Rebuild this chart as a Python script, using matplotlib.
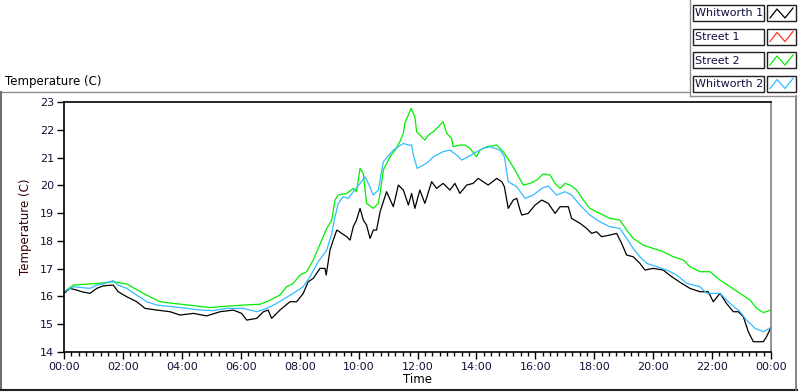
import matplotlib
matplotlib.use("Agg")
import matplotlib.pyplot as plt
from matplotlib.lines import Line2D
from matplotlib.patches import Rectangle
import numpy as np

# hours since midnight, temperature (C)
w1_hours = [0, 0.2, 0.43, 0.6, 0.88, 1.11, 1.33, 1.67, 1.84, 2.13, 2.47, 2.75, 3.15, 3.6, 3.94,
            4.39, 4.84, 5.3, 5.75, 6.03, 6.2, 6.54, 6.77, 6.93, 7.05, 7.33, 7.67, 7.9, 8.12,
            8.29, 8.46, 8.69, 8.86, 8.9, 9.03, 9.14, 9.26, 9.43, 9.6, 9.71, 9.82, 9.93, 10.05,
            10.16, 10.27, 10.39, 10.5, 10.61, 10.73, 10.95, 11.18, 11.35, 11.52, 11.69, 11.8,
            11.91, 12.08, 12.25, 12.48, 12.65, 12.87, 13.1, 13.27, 13.44, 13.67, 13.89, 14.06,
            14.23, 14.4, 14.69, 14.86, 14.95, 15.08, 15.25, 15.37, 15.48, 15.54, 15.76, 15.99,
            16.22, 16.44, 16.67, 16.84, 17.12, 17.23, 17.52, 17.74, 17.91, 18.08, 18.25, 18.53,
            18.76, 18.93, 19.1, 19.32, 19.55, 19.72, 20.0, 20.34, 20.63, 20.97, 21.25, 21.59,
            21.87, 22.04, 22.27, 22.49, 22.72, 22.89, 23.06, 23.23, 23.4, 23.74, 23.85, 24.0]
w1_temp = [16.11, 16.29, 16.23, 16.17, 16.11, 16.29, 16.38, 16.41, 16.17, 15.99, 15.81, 15.57,
           15.51, 15.45, 15.33, 15.39, 15.3, 15.45, 15.51, 15.39, 15.15, 15.21, 15.45, 15.51,
           15.21, 15.51, 15.81, 15.81, 16.11, 16.53, 16.65, 17.01, 17.01, 16.77, 17.67, 18.03,
           18.39, 18.27, 18.15, 18.03, 18.51, 18.75, 19.17, 18.75, 18.57, 18.09, 18.39, 18.39,
           19.05, 19.77, 19.23, 20.01, 19.83, 19.29, 19.71, 19.17, 19.83, 19.35, 20.13, 19.89,
           20.07, 19.83, 20.07, 19.71, 20.01, 20.07, 20.25, 20.13, 20.01, 20.25, 20.13, 19.95,
           19.17, 19.47, 19.53, 19.11, 18.93, 18.99, 19.29, 19.47, 19.35, 18.99, 19.23, 19.23,
           18.81, 18.63, 18.45, 18.27, 18.33, 18.15, 18.21, 18.27, 17.91, 17.49, 17.43, 17.19,
           16.95, 17.01, 16.95, 16.71, 16.47, 16.29, 16.17, 16.17, 15.81, 16.11, 15.75, 15.45,
           15.45, 15.27, 14.73, 14.37, 14.37, 14.55, 14.89]

st2_hours = [0, 0.32, 1.16, 1.67, 2.13, 2.69, 3.26, 3.71, 4.39, 4.95, 5.3, 6.09, 6.65, 6.88,
             7.33, 7.56, 7.78, 8.01, 8.24, 8.46, 8.75, 8.92, 9.09, 9.2, 9.31, 9.6, 9.82, 9.93,
             10.05, 10.16, 10.27, 10.5, 10.67, 10.73, 10.84, 11.07, 11.24, 11.4, 11.52, 11.57,
             11.78, 11.91, 11.97, 12.08, 12.25, 12.37, 12.54, 12.71, 12.87, 12.99, 13.16, 13.21,
             13.44, 13.61, 13.78, 14.01, 14.12, 14.35, 14.69, 14.91, 15.14, 15.37, 15.59, 15.82,
             16.05, 16.27, 16.5, 16.67, 16.84, 17.01, 17.18, 17.4, 17.63, 17.85, 18.19, 18.53,
             18.87, 19.1, 19.32, 19.66, 20.0, 20.34, 20.68, 21.02, 21.25, 21.59, 21.93, 22.27,
             22.61, 22.95, 23.29, 23.51, 23.74, 24.0]
st2_temp = [16.16, 16.41, 16.47, 16.53, 16.45, 16.11, 15.81, 15.75, 15.67, 15.6, 15.63, 15.69,
            15.72, 15.81, 16.05, 16.35, 16.47, 16.77, 16.89, 17.31, 18.03, 18.45, 18.75, 19.47,
            19.65, 19.71, 19.89, 19.77, 20.61, 20.43, 19.35, 19.17, 19.35, 19.71, 20.55, 21.03,
            21.27, 21.57, 21.87, 22.23, 22.77, 22.47, 21.93, 21.81, 21.63, 21.81, 21.93, 22.11,
            22.29, 21.87, 21.69, 21.39, 21.45, 21.45, 21.33, 21.03, 21.27, 21.39, 21.45, 21.21,
            20.85, 20.43, 20.01, 20.07, 20.19, 20.41, 20.37, 20.07, 19.89, 20.07, 20.01, 19.83,
            19.47, 19.17, 18.99, 18.81, 18.75, 18.39, 18.09, 17.85, 17.73, 17.61, 17.43, 17.31,
            17.07, 16.89, 16.89, 16.59, 16.35, 16.11, 15.87, 15.57, 15.42, 15.51]

w2_hours = [0, 0.32, 0.88, 1.11, 1.33, 1.67, 1.84, 2.13, 2.47, 2.81, 3.15, 3.71, 4.62, 5.07,
            5.52, 6.09, 6.54, 6.88, 7.22, 7.5, 7.78, 8.12, 8.35, 8.63, 8.92, 9.09, 9.2, 9.31,
            9.48, 9.65, 9.82, 10.05, 10.22, 10.33, 10.5, 10.67, 10.84, 11.18, 11.52, 11.69,
            11.8, 11.86, 11.99, 12.2, 12.37, 12.54, 12.87, 13.1, 13.33, 13.5, 13.72, 14.01,
            14.23, 14.46, 14.8, 14.95, 15.08, 15.37, 15.65, 15.93, 16.22, 16.44, 16.72, 17.01,
            17.23, 17.52, 17.85, 18.19, 18.53, 18.87, 19.1, 19.32, 19.55, 19.78, 20.12, 20.46,
            20.8, 21.14, 21.59, 21.82, 22.27, 22.61, 22.95, 23.17, 23.46, 23.74, 24.0]
w2_temp = [16.17, 16.35, 16.29, 16.41, 16.45, 16.57, 16.41, 16.29, 16.05, 15.81, 15.69, 15.63,
           15.51, 15.49, 15.57, 15.57, 15.45, 15.57, 15.75, 15.93, 16.11, 16.35, 16.71, 17.25,
           17.67, 18.27, 18.87, 19.35, 19.59, 19.53, 19.77, 20.07, 20.31, 20.07, 19.65, 19.83,
           20.85, 21.27, 21.51, 21.45, 21.45, 21.09, 20.61, 20.73, 20.85, 21.03, 21.21, 21.27,
           21.09, 20.91, 21.03, 21.21, 21.33, 21.39, 21.27, 21.03, 20.13, 19.95, 19.53, 19.65,
           19.89, 19.98, 19.65, 19.77, 19.65, 19.29, 18.93, 18.69, 18.51, 18.45, 18.09, 17.73,
           17.43, 17.19, 17.07, 16.95, 16.77, 16.47, 16.35, 16.11, 16.11, 15.75, 15.45, 15.15,
           14.85, 14.73, 14.89]

series_names = ["Whitworth 1", "Street 1", "Street 2", "Whitworth 2"]
series_colors = ["#000000", "#ff3030", "#00ee00", "#33bbff"]

x_ticks = list(range(0, 25, 2))
x_tick_labels = ["%02d:00" % (h % 24) for h in x_ticks]
y_ticks = list(range(14, 24))

W, H = 800, 392
fig = plt.figure(figsize=(W / 100, H / 100), dpi=100)
fig.patch.set_facecolor("white")
plt.rcParams["font.family"] = "DejaVu Sans"

def fx(px):
    return px / W

def fy(py):
    return 1 - py / H

left, right, top, bottom = 64, 771, 102, 352
ax = fig.add_axes([fx(left), fy(bottom), fx(right - left), fy(top) - fy(bottom)])

ax.plot(w1_hours, w1_temp, color=series_colors[0], lw=0.9)
ax.plot(st2_hours, st2_temp, color=series_colors[2], lw=0.9)
ax.plot(w2_hours, w2_temp, color=series_colors[3], lw=0.9)

ax.set_xlim(0, 24)
ax.set_ylim(14, 23)
ax.set_xticks(x_ticks)
ax.set_xticklabels(x_tick_labels)
ax.set_xticks(np.arange(0, 24.01, 0.25), minor=True)
ax.set_yticks(y_ticks)
ax.tick_params(axis="both", which="major", direction="out", length=5, width=1,
               labelsize=8, labelcolor="#10103a", pad=2)
ax.tick_params(axis="x", which="minor", direction="out", length=3, width=1)
ax.tick_params(axis="y", which="minor", length=0)
for s in ["left", "bottom", "top"]:
    ax.spines[s].set_color("black")
    ax.spines[s].set_linewidth(1.2)
ax.spines["right"].set_color("#808080")
ax.spines["right"].set_linewidth(1.2)

ax.set_xlabel("Time", fontsize=8.5, labelpad=1)
ax.set_ylabel("Temperature (C)", fontsize=8.5, color="#300000", labelpad=6)

# chart title label and outer frame
fig.text(fx(5), fy(81), "Temperature (C)", fontsize=8.5, va="center", ha="left")
frame = "#707070"
fig.add_artist(Line2D([fx(0), fx(690)], [fy(92), fy(92)], color="#909090", lw=1))
fig.add_artist(Line2D([fx(1), fx(1)], [fy(92), fy(390)], color=frame, lw=1.5))
fig.add_artist(Line2D([fx(0), fx(797)], [fy(390), fy(390)], color="#202020", lw=1.5))
fig.add_artist(Line2D([fx(796), fx(796)], [fy(96), fy(390)], color=frame, lw=1.2))
fig.add_artist(Line2D([fx(690), fx(690)], [fy(0), fy(96)], color="#909090", lw=1))
fig.add_artist(Line2D([fx(690), fx(796)], [fy(96), fy(96)], color="#909090", lw=1))

# legend panel
lg = fig.add_axes([fx(690), fy(96), fx(110), fy(0) - fy(96)])
lg.set_xlim(690, 800)
lg.set_ylim(96, 0)
lg.axis("off")
for i, (name, col) in enumerate(zip(series_names, series_colors)):
    y0 = 5 + i * 23.5
    lg.add_patch(Rectangle((693, y0), 71, 16, fill=False, ec="#202020", lw=1))
    lg.text(695, y0 + 8.5, name, fontsize=8, va="center", ha="left", color="#101040")
    lg.add_patch(Rectangle((767, y0), 29, 16, fill=False, ec="#202020", lw=1))
    lg.plot([770, 777, 785, 793], [y0 + 13, y0 + 4, y0 + 13, y0 + 3], color=col, lw=0.9)

fig.savefig("out.png", dpi=100)
